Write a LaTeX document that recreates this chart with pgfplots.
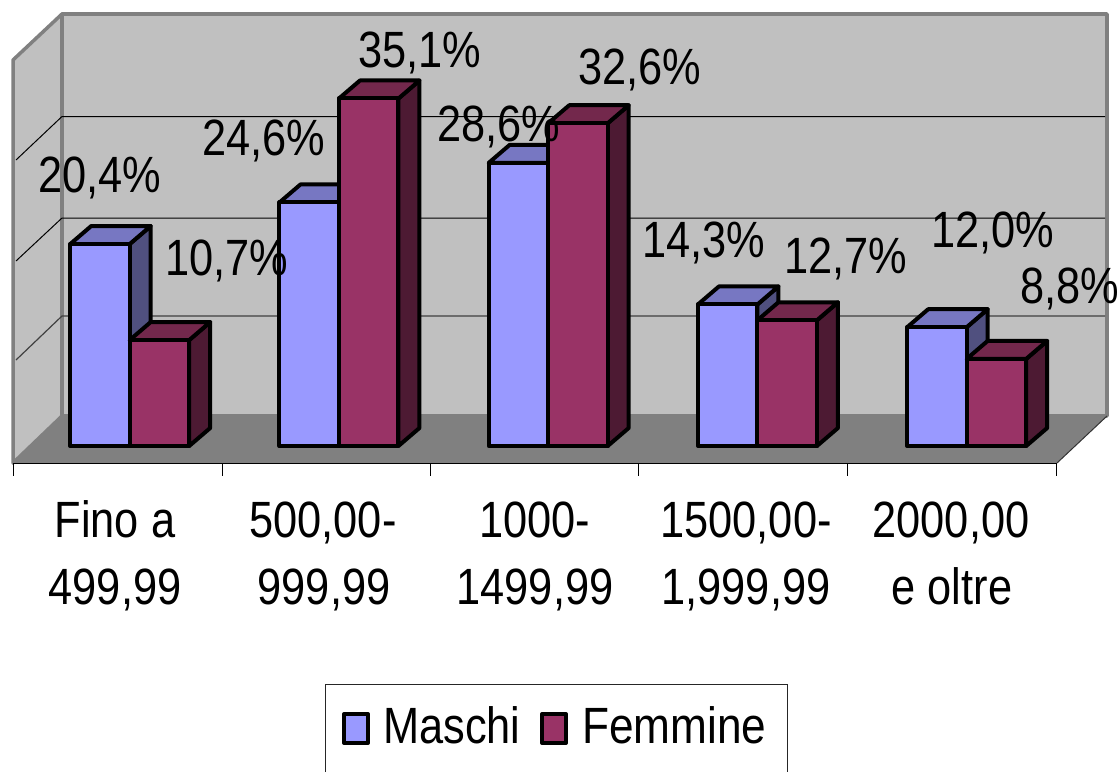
\documentclass[border=0pt]{standalone}
\usepackage{pgfplots}
\usepackage{pgfplotstable}
\usepackage{fontspec}
\pgfplotsset{compat=1.18}
\setmainfont[FakeStretch=0.85]{Liberation Sans}
\definecolor{wall}{HTML}{C0C0C0}
\definecolor{floorc}{HTML}{808080}
\definecolor{bluef}{HTML}{9999FF}
\definecolor{bluet}{HTML}{7777C2}
\definecolor{blues}{HTML}{50507F}
\definecolor{redf}{HTML}{993366}
\definecolor{redt}{HTML}{73284C}
\definecolor{reds}{HTML}{4D1A33}
\pgfplotstableread{
x maschi femmine
0 20.4 10.7
1 24.6 35.1
2 28.6 32.6
3 14.3 12.7
4 12.0 8.8
}\datatable
\tikzset{
  lbl/.style={anchor=base west,inner sep=0pt,font=\fontsize{51}{51}\selectfont},
  cat/.style={anchor=base,inner sep=0pt,font=\fontsize{51}{51}\selectfont},
  barline/.style={draw=black,line width=4pt,line join=round},
}
\pgfplotsset{
  base/.style={at={(0pt,0pt)},anchor=south west,width=1120pt,height=772pt,scale only axis,hide axis},
  px/.style={base,xmin=0,xmax=1120,ymin=0,ymax=772,y dir=reverse},
}
% depth faces of one bar: #1 left edge in x, #2 value, #3 top colour, #4 side colour
\newcommand\depthfaces[4]{%
  \pgfmathsetmacro\xl{#1}%
  \pgfmathsetmacro\xr{#1+0.28435}%
  \pgfmathsetmacro\xlb{#1+0.10036}%
  \pgfmathsetmacro\xrb{#1+0.38471}%
  \pgfmathsetmacro\yb{#2+1.818}%
  \edef\temp{\noexpand\addplot[fill=#4,barline] coordinates {(\xr,#2) (\xrb,\yb) (\xrb,1.818) (\xr,0)} --cycle;
  \noexpand\addplot[fill=#3,barline] coordinates {(\xl,#2) (\xlb,\yb) (\xrb,\yb) (\xr,#2)} --cycle;}%
  \temp
}
\begin{document}
\begin{tikzpicture}
\useasboundingbox (0pt,0pt) rectangle (1120pt,772pt);
% walls, floor, gridlines (pixel frame)
\begin{axis}[px]
\addplot[fill=wall,draw=floorc,line width=3.5pt,line join=round] coordinates {(13,60) (62,14) (62,416) (13,463)} --cycle;
\addplot[fill=wall,draw=floorc,line width=3.5pt,line join=round] coordinates {(62,14) (1107,14) (1107,416) (62,416)} --cycle;
\addplot[fill=floorc,draw=none] coordinates {(13,463) (62,416) (1107,416) (1057,463)} --cycle;
\addplot[black,line width=1pt] coordinates {(16,160) (62,116.5) (1105,116.5)};
\addplot[black,line width=1pt] coordinates {(16,261) (62,218) (1105,218)};
\addplot[black!75,line width=1.2pt] coordinates {(16,360) (62,316) (1105,316)};
\addplot[black!80,line width=1pt] coordinates {(1107,416) (1057,463)};
\addplot[black,line width=1pt] coordinates {(13,463.5) (1057,463.5)};
\addplot[black,line width=1pt] coordinates {(13.5,463) (13.5,476)};
\addplot[black,line width=1pt] coordinates {(222,463) (222,476)};
\addplot[black,line width=1pt] coordinates {(430,463) (430,476)};
\addplot[black,line width=1pt] coordinates {(638,463) (638,476)};
\addplot[black,line width=1pt] coordinates {(847,463) (847,476)};
\addplot[black,line width=1pt] coordinates {(1056.5,463) (1056.5,476)};
\end{axis}
% bars (x = category, y = percent)
\begin{axis}[base,xmin=-0.62,xmax=4.7324,ymin=-32.93,ymax=45.05]
\depthfaces{-0.28435}{20.4}{bluet}{blues}
\depthfaces{0.71565}{24.6}{bluet}{blues}
\depthfaces{1.71565}{28.6}{bluet}{blues}
\depthfaces{2.71565}{14.3}{bluet}{blues}
\depthfaces{3.71565}{12.0}{bluet}{blues}
\addplot[ybar,bar width=59.5pt,bar shift=-29.75pt,fill=bluef,barline] table[x=x,y=maschi] {\datatable};
\depthfaces{0}{10.7}{redt}{reds}
\depthfaces{1}{35.1}{redt}{reds}
\depthfaces{2}{32.6}{redt}{reds}
\depthfaces{3}{12.7}{redt}{reds}
\depthfaces{4}{8.8}{redt}{reds}
\addplot[ybar,bar width=59.5pt,bar shift=29.75pt,fill=redf,barline] table[x=x,y=femmine] {\datatable};
\end{axis}
% texts and legend
\begin{axis}[px]
\node[lbl] at (axis cs:38,192) {20,4\%};
\node[lbl] at (axis cs:165,275) {10,7\%};
\node[lbl] at (axis cs:202,155) {24,6\%};
\node[lbl] at (axis cs:358,67) {35,1\%};
\node[lbl] at (axis cs:437,141) {28,6\%};
\node[lbl] at (axis cs:578,84) {32,6\%};
\node[lbl] at (axis cs:642,257) {14,3\%};
\node[lbl] at (axis cs:784,273) {12,7\%};
\node[lbl] at (axis cs:931,247) {12,0\%};
\node[lbl] at (axis cs:1020,303) {8,8\%};
\node[cat] at (axis cs:115,537) {Fino a};
\node[cat] at (axis cs:115,604) {499,99};
\node[cat] at (axis cs:323,537) {500,00-};
\node[cat] at (axis cs:324,604) {999,99};
\node[cat] at (axis cs:535,537) {1000-};
\node[cat] at (axis cs:535,604) {1499,99};
\node[cat] at (axis cs:746,537) {1500,00-};
\node[cat] at (axis cs:746,604) {1,999,99};
\node[cat] at (axis cs:951,537) {2000,00};
\node[cat] at (axis cs:952,604) {e oltre};
\addplot[black!85,line width=1pt] coordinates {(325.5,772) (325.5,684) (787,684) (787,772)};
\addplot[fill=bluef,draw=black,line width=4pt,line join=round] coordinates {(344,714) (368,714) (368,743) (344,743)} --cycle;
\addplot[fill=redf,draw=black,line width=4pt,line join=round] coordinates {(542,714) (566,714) (566,743) (542,743)} --cycle;
\node[lbl] at (axis cs:383,743) {Maschi};
\node[lbl,xscale=1.02,transform shape] at (axis cs:582,743) {Femmine};
\end{axis}
\end{tikzpicture}
\end{document}
